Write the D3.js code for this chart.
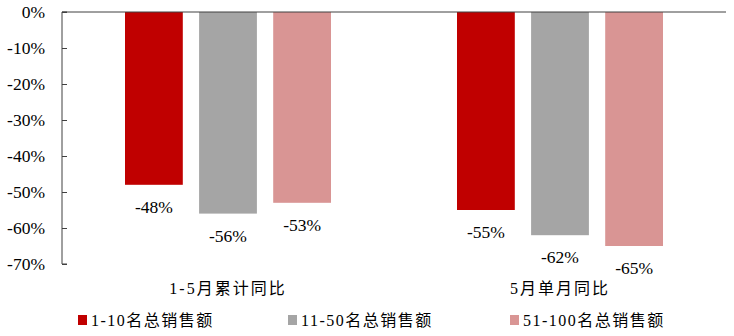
<!DOCTYPE html>
<html>
<head>
<meta charset="utf-8">
<script src="https://cdn.jsdelivr.net/npm/d3@7"></script>
<style>
  body { margin: 0; background: #fff; }
  text { font-family: "Liberation Serif", "Noto Sans CJK SC", serif; fill: #000; }
</style>
</head>
<body>
<div id="chart"></div>
<script>
// 数据
const categories = ["1-5月累计同比", "5月单月同比"];
const seriesNames = ["1-10名总销售额", "11-50名总销售额", "51-100名总销售额"];
const seriesColors = ["#C00000", "#A5A5A5", "#D99594"];
const seriesValues = [
    [-48, -55],
    [-56, -62],
    [-53, -65]
];
const yTicks = [0, -10, -20, -30, -40, -50, -60, -70];

const width = 734, height = 336;
const margin = { top: 12, right: 8, bottom: 72, left: 62 };

const svg = d3.select("#chart").append("svg")
    .attr("width", width)
    .attr("height", height);

// 比例尺
const x0 = d3.scaleBand()
    .domain(categories)
    .range([margin.left, width - margin.right]);

const x1 = d3.scaleBand()
    .domain(d3.range(seriesNames.length))
    .range([0, 206])
    .paddingInner(0.22);

const y = d3.scaleLinear()
    .domain([0, -70])
    .range([margin.top, height - margin.bottom]);

const barX = (c, i) => x0(c) + x0.bandwidth() / 2 - 103 + x1(i);

// 柱子 + 数值标签
seriesNames.forEach((name, i) => {
    svg.append("g")
        .selectAll("rect")
        .data(categories)
        .enter()
        .append("rect")
        .attr("x", c => barX(c, i))
        .attr("y", y(0))
        .attr("width", x1.bandwidth())
        .attr("height", (c, j) => y(seriesValues[i][j]) - y(0))
        .attr("fill", seriesColors[i]);

    svg.append("g")
        .selectAll("text")
        .data(categories)
        .enter()
        .append("text")
        .attr("x", c => barX(c, i) + x1.bandwidth() / 2)
        .attr("y", (c, j) => y(seriesValues[i][j]) + 28)
        .attr("text-anchor", "middle")
        .style("font-size", "17.5px")
        .text((c, j) => seriesValues[i][j] + "%");
});

// Y轴
const yAxis = svg.append("g")
    .attr("transform", `translate(${margin.left},0)`)
    .call(d3.axisRight(y).tickValues(yTicks).tickSize(5).tickFormat(d => d + "%"));
yAxis.select(".domain").attr("stroke", "#404040").attr("d", `M5,${y(0)}H0V${y(-70)}H5`);
yAxis.selectAll(".tick line").attr("stroke", "#404040");
yAxis.selectAll(".tick text")
    .attr("x", -17)
    .attr("text-anchor", "end")
    .style("font-size", "17.5px")
    .style("font-family", "Liberation Serif");

// 0%线
svg.append("line")
    .attr("x1", margin.left)
    .attr("x2", width - margin.right)
    .attr("y1", y(0))
    .attr("y2", y(0))
    .attr("stroke", "#404040")
    .attr("stroke-width", 1);

// 分类标签
svg.append("g")
    .selectAll("text")
    .data(categories)
    .enter()
    .append("text")
    .attr("x", c => x0(c) + x0.bandwidth() / 2)
    .attr("y", 294)
    .attr("text-anchor", "middle")
    .style("font-size", "16px")
    .style("letter-spacing", "2px")
    .text(c => c);

// 图例
const legendX = [78, 288, 510];
const legend = svg.append("g")
    .selectAll("g")
    .data(seriesNames)
    .enter()
    .append("g")
    .attr("transform", (d, i) => `translate(${legendX[i]},315)`);

legend.append("rect")
    .attr("width", 9)
    .attr("height", 10)
    .attr("fill", (d, i) => seriesColors[i]);

legend.append("text")
    .attr("x", 13)
    .attr("y", 11)
    .style("font-size", "16px")
    .style("letter-spacing", "1.5px")
    .text(d => d);
</script>
</body>
</html>
